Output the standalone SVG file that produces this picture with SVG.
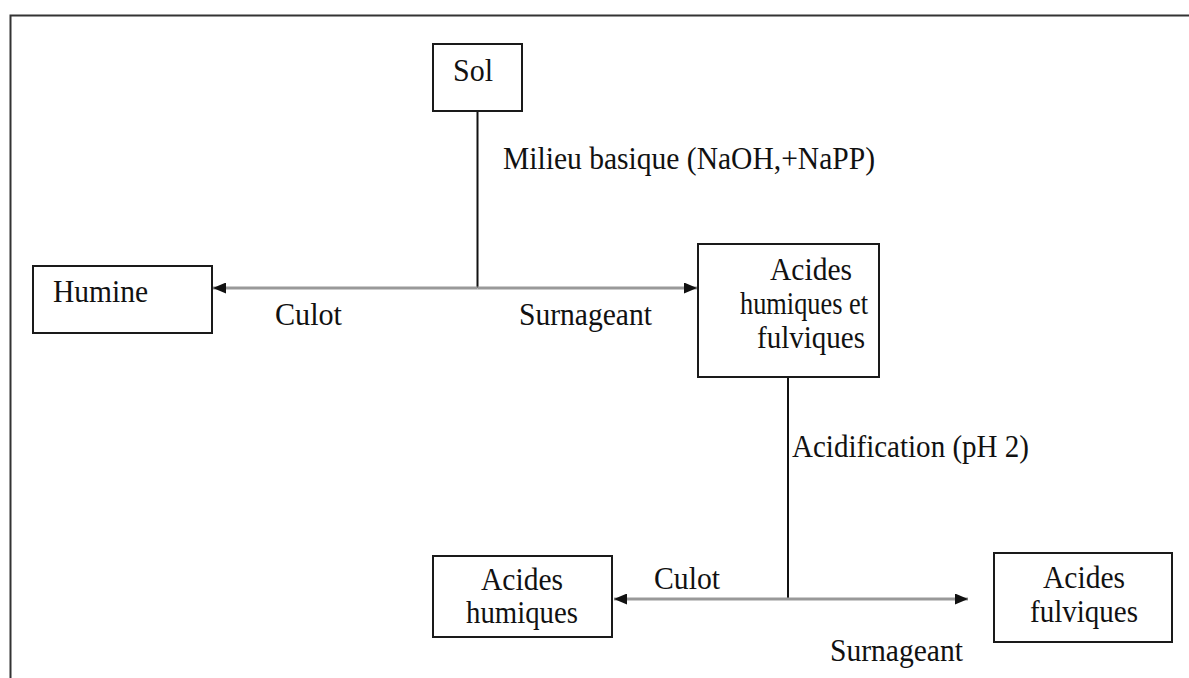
<svg xmlns="http://www.w3.org/2000/svg" width="1189" height="678" viewBox="0 0 1189 678">
<style>
.box{fill:#fff;stroke:#1a1a1a;stroke-width:2}
.t{font-family:"Liberation Serif","Times New Roman",serif;font-size:31px;fill:#111}
.c{text-anchor:middle}
.v{stroke:#111;stroke-width:2;fill:none}
.h{stroke:#999;stroke-width:3;fill:none}
.frame{stroke:#333;stroke-width:2;fill:none}
</style>
<defs>
<marker id="ah" viewBox="0 0 13 11" refX="13" refY="5.5" markerWidth="13" markerHeight="11" markerUnits="userSpaceOnUse" orient="auto">
<path d="M0,0 L13,5.5 L0,11 Z" fill="#111"/>
</marker>
</defs>
<path class="frame" d="M10.5,678 V15.5 H1189"/>
<g id="connectors">
<line class="v" x1="477.5" y1="111" x2="477.5" y2="288"/>
<line class="h" x1="477.5" y1="288" x2="213" y2="288" marker-end="url(#ah)"/>
<line class="h" x1="477.5" y1="288" x2="697" y2="288" marker-end="url(#ah)"/>
<line class="v" x1="788" y1="377" x2="788" y2="599"/>
<line class="h" x1="788" y1="599" x2="614" y2="599" marker-end="url(#ah)"/>
<line class="h" x1="788" y1="599" x2="968" y2="599" marker-end="url(#ah)"/>
<text class="t" x="503" y="169" textLength="372" lengthAdjust="spacingAndGlyphs">Milieu basique (NaOH,+NaPP)</text>
<text class="t" x="275" y="325" textLength="67" lengthAdjust="spacingAndGlyphs">Culot</text>
<text class="t" x="519" y="325" textLength="133" lengthAdjust="spacingAndGlyphs">Surnageant</text>
<text class="t" x="792" y="457" textLength="237" lengthAdjust="spacingAndGlyphs">Acidification (pH 2)</text>
<text class="t" x="654" y="589" textLength="66" lengthAdjust="spacingAndGlyphs">Culot</text>
<text class="t" x="830" y="661" textLength="133" lengthAdjust="spacingAndGlyphs">Surnageant</text>
</g>
<g id="sol">
<rect class="box" x="433" y="44" width="89" height="67"/>
<text class="t" x="453" y="81" textLength="40" lengthAdjust="spacingAndGlyphs">Sol</text>
</g>
<g id="humine">
<rect class="box" x="33" y="266" width="179" height="67"/>
<text class="t" x="53" y="302" textLength="95" lengthAdjust="spacingAndGlyphs">Humine</text>
</g>
<g id="acides-humiques-fulviques">
<rect class="box" x="698" y="244" width="181" height="133"/>
<text class="t c" x="811" y="280" textLength="82" lengthAdjust="spacingAndGlyphs">Acides</text>
<text class="t c" x="804" y="314" textLength="128" lengthAdjust="spacingAndGlyphs">humiques et</text>
<text class="t c" x="811" y="348" textLength="108" lengthAdjust="spacingAndGlyphs">fulviques</text>
</g>
<g id="acides-humiques">
<rect class="box" x="433" y="556" width="179" height="81"/>
<text class="t c" x="522" y="590" textLength="82" lengthAdjust="spacingAndGlyphs">Acides</text>
<text class="t c" x="522" y="623" textLength="112" lengthAdjust="spacingAndGlyphs">humiques</text>
</g>
<g id="acides-fulviques">
<rect class="box" x="994" y="553" width="178" height="89"/>
<text class="t c" x="1084" y="588" textLength="82" lengthAdjust="spacingAndGlyphs">Acides</text>
<text class="t c" x="1084" y="622" textLength="108" lengthAdjust="spacingAndGlyphs">fulviques</text>
</g>
</svg>
